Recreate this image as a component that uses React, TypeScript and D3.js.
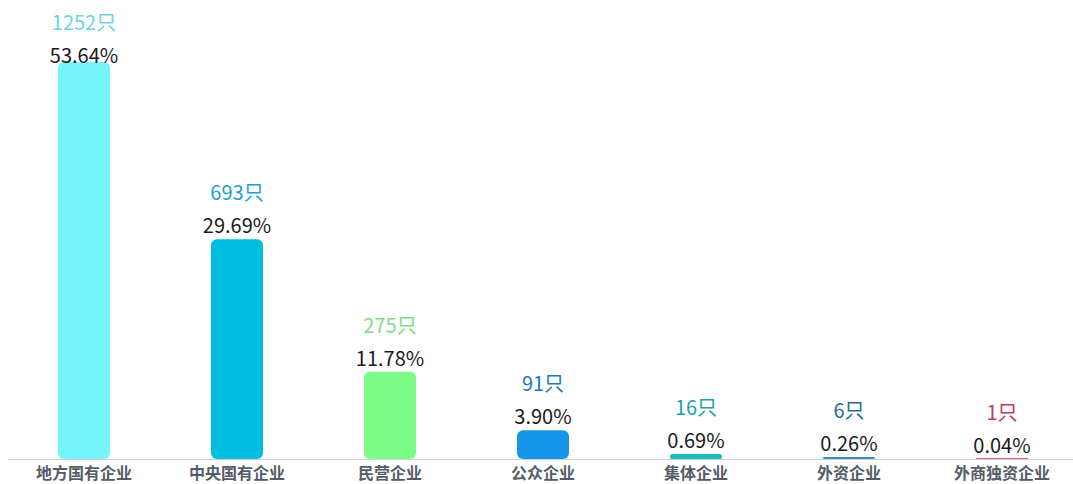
import React from "react";
import * as d3 from "d3";

const categories = ["地方国有企业", "中央国有企业", "民营企业", "公众企业", "集体企业", "外资企业", "外商独资企业"];
const counts = [1252, 693, 275, 91, 16, 6, 1];
const percents = ["53.64%", "29.69%", "11.78%", "3.90%", "0.69%", "0.26%", "0.04%"];
const barColors = ["#75F5FA", "#00BEE0", "#7CFC86", "#1595E8", "#17BDBD", "#3C8FBA", "#D4607C"];
const labelColors = ["#6FD4DA", "#1BA2CC", "#7ADF82", "#2179C2", "#1CA3A3", "#1F6E90", "#C23A5C"];

const W = 1073;
const H = 484;
const baseY = 459;

export default function App() {
  const x = d3.scaleBand<string>().domain(categories).range([7.5, 1078.5]).paddingInner(0.66).paddingOuter(0.33);
  const y = d3.scaleLinear().domain([0, d3.max(counts) as number]).range([baseY, 62]);
  const font = "'Noto Sans CJK SC', 'Noto Sans', sans-serif";
  return (
    <svg width={W} height={H} style={{ position: "absolute", left: 0, top: 0, background: "#fff" }}>
      <line x1={8} x2={1073} y1={baseY + 0.5} y2={baseY + 0.5} stroke="#d0d0d0" strokeWidth={1} />
      {categories.map((c, i) => {
        const top = y(counts[i]);
        const h = Math.max(baseY - top, 1);
        const bx = x(c) as number;
        const bw = x.bandwidth();
        const cx = bx + bw / 2;
        const pctY = Math.max(top - 6, 63);
        const r = Math.min(6, h / 2);
        return (
          <g key={c}>
            <rect x={bx} y={baseY - h} width={bw} height={h} rx={r} ry={r} fill={barColors[i]} />
            <text x={cx} y={pctY} textAnchor="middle" fontFamily={font} fontSize={20} fill="#1a1a1a">
              {percents[i]}
            </text>
            <text x={cx} y={pctY - 33} textAnchor="middle" fontFamily={font} fontSize={20} fill={labelColors[i]}>
              {counts[i] + "只"}
            </text>
            <text x={cx} y={479} textAnchor="middle" fontFamily={font} fontSize={16} fontWeight="bold" fill="#555c68">
              {c}
            </text>
          </g>
        );
      })}
    </svg>
  );
}
